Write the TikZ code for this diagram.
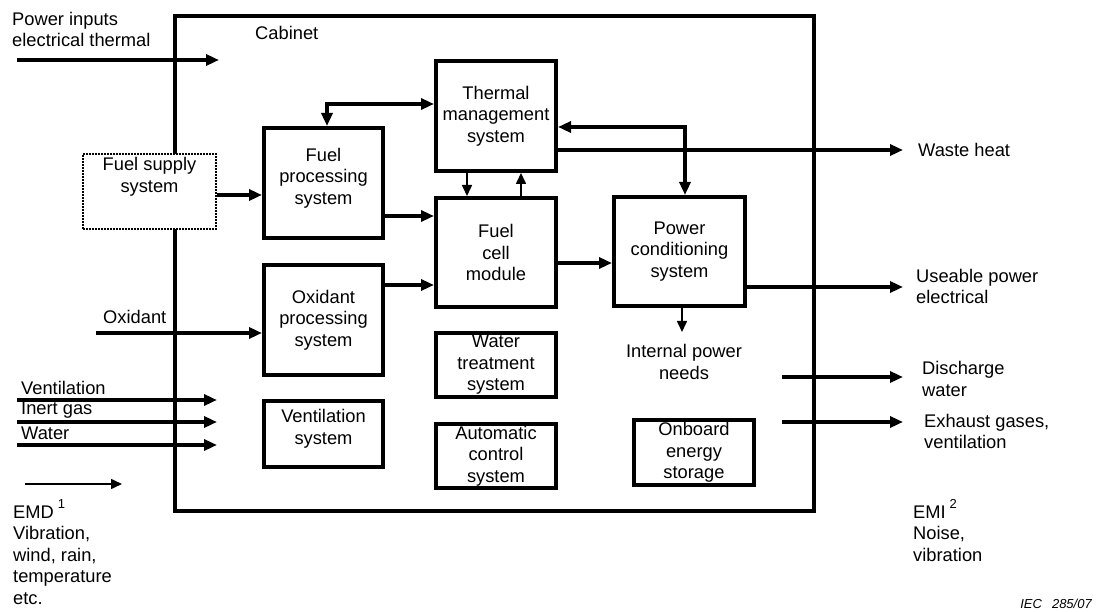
\documentclass[tikz,border=0pt]{standalone}
\usepackage{fontspec}
\setmainfont{Liberation Sans}
\usetikzlibrary{arrows.meta}
\begin{document}
\begin{tikzpicture}[x=1pt,y=-1pt,
  every node/.style={font=\fontsize{18.3}{21.5}\selectfont, inner sep=0pt},
  box/.style={draw, line width=4pt, fill=white, align=center},
  lbl/.style={align=left, anchor=west},
  boldarrow/.style={line width=4pt, -{Triangle[length=13pt,width=11pt]}},
  bothbold/.style={line width=4pt, {Triangle[length=13pt,width=11pt]}-{Triangle[length=13pt,width=11pt]}},
  thinarrow/.style={line width=1.6pt, -{Triangle[length=11pt,width=10pt]}}
]
\useasboundingbox (0,0) rectangle (1096,612);

% cabinet
\draw[line width=4pt] (175,16) rectangle (814,511);
\node[lbl] (cab) at (255,33) {Cabinet};

% boxes
\node[box, line width=2.2pt, dash pattern=on 1.8pt off 1.2pt, minimum width=133, minimum height=75,
  label={[align=center, yshift=14.5pt]center:{Fuel supply\\system}}] (fss) at (149.5,191.5) {};
\node[box, minimum width=119, minimum height=110,
  label={[align=center, yshift=5pt]center:{Fuel\\processing\\system}}] (fps) at (323.5,183) {};
\node[box, minimum width=120, minimum height=110] (tms) at (496,116) {Thermal\\management\\system};
\node[box, minimum width=120, minimum height=109] (fcm) at (496,252.5) {Fuel\\cell\\module};
\node[box, minimum width=119, minimum height=110] (ops) at (323.5,320) {Oxidant\\processing\\system};
\node[box, minimum width=119, minimum height=66,
  label={[align=center, yshift=5pt]center:{Ventilation\\system}}] (vs) at (323.5,434) {};
\node[box, minimum width=120, minimum height=64] (wts) at (496,365) {Water\\treatment\\system};
\node[box, minimum width=120, minimum height=64] (acs) at (496,456) {Automatic\\control\\system};
\node[box, minimum width=131, minimum height=109] (pcs) at (679.5,251.5) {Power\\conditioning\\system};
\node[box, minimum width=120, minimum height=65] (oes) at (694,452.5) {Onboard\\energy\\storage};

% outer labels
\node[lbl] (pin) at (12,29.5) {Power inputs\\electrical thermal};
\node[lbl] (oxl) at (103,317) {Oxidant};
\node[lbl] (vl) at (21,388) {Ventilation};
\node[lbl] (igl) at (21,410) {Inert gas};
\node[lbl] (wl) at (21,433) {Water};
\node[lbl, anchor=north west] (emd) at (13,499) {EMD\hspace{4pt}\raisebox{10pt}{\fontsize{13}{15}\selectfont 1}\\Vibration,\\wind, rain,\\temperature\\etc.};
\node[lbl] (wh) at (918,150) {Waste heat};
\node[lbl] (up) at (916,286.5) {Useable power\\electrical};
\node[align=center] (ipn) at (684,362) {Internal power\\needs};
\node[lbl] (dw) at (922,379) {Discharge\\water};
\node[lbl] (eg) at (924,431.5) {Exhaust gases,\\ventilation};
\node[lbl, anchor=north west] (emi) at (913,499) {EMI\hspace{4pt}\raisebox{10pt}{\fontsize{13}{15}\selectfont 2}\\Noise,\\vibration};
\node[anchor=east, font=\fontsize{13}{15}\selectfont\itshape] (iec) at (1092,604) {IEC\hspace{10pt}285/07};

% free-end coordinates
\coordinate (pinS) at (17,60);   \coordinate (pinE) at (219,60);
\coordinate (oxS) at (96,333);
\coordinate (v1S) at (17,400);   \coordinate (v1E) at (217,400);
\coordinate (v2S) at (17,422);   \coordinate (v2E) at (217,422);
\coordinate (v3S) at (17,445);   \coordinate (v3E) at (217,445);
\coordinate (emdS) at (25,484);  \coordinate (emdE) at (122,484);
\coordinate (whE) at (903,150);
\coordinate (upE) at (903,287);
\coordinate (ipE) at (682,332);
\coordinate (dwS) at (782,377);  \coordinate (dwE) at (903,377);
\coordinate (egS) at (782,422);  \coordinate (egE) at (903,422);

% connectors
\draw[boldarrow] (pinS) -- (pinE);
\draw[boldarrow] (fss.east |- 0,195) -- (fps.west |- 0,195);
\draw[boldarrow] (fps.east |- 0,216) -- (fcm.west |- 0,216);
\draw[boldarrow] (ops.east |- 0,285) -- (fcm.west |- 0,285);
\draw[boldarrow] (oxS) -- (ops.west |- oxS);
\draw[bothbold] (fps.north -| 327,0) |- (tms.west |- 0,104);
\draw[thinarrow] (tms.south -| 467,0) -- (fcm.north -| 467,0);
\draw[thinarrow] (fcm.north -| 521,0) -- (tms.south -| 521,0);
\draw[bothbold] (tms.east |- 0,127) -| (pcs.north -| 685,0);
\draw[boldarrow] (tms.east |- whE) -- (whE);
\draw[boldarrow] (fcm.east |- 0,263) -- (pcs.west |- 0,263);
\draw[boldarrow] (pcs.east |- upE) -- (upE);
\draw[thinarrow] (pcs.south -| ipE) -- (ipE);
\draw[boldarrow] (dwS) -- (dwE);
\draw[boldarrow] (egS) -- (egE);
\draw[boldarrow] (v1S) -- (v1E);
\draw[boldarrow] (v2S) -- (v2E);
\draw[boldarrow] (v3S) -- (v3E);
\draw[thinarrow] (emdS) -- (emdE);
\end{tikzpicture}
\end{document}
